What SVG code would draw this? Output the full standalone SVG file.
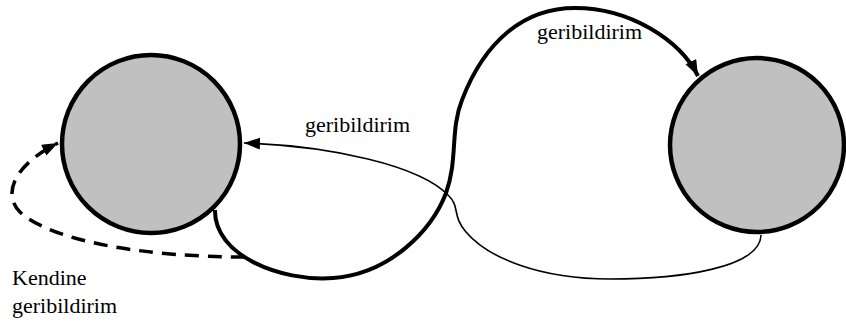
<svg xmlns="http://www.w3.org/2000/svg" width="846" height="322" viewBox="0 0 846 322">
<defs>
<style>
.node{fill:#c0c0c0;stroke:#000;stroke-width:4.5}
.edge{fill:none;stroke:#000}
</style>
<marker id="ah" markerUnits="userSpaceOnUse" markerWidth="18" markerHeight="14" refX="16" refY="6" orient="auto">
<path d="M0,0 L16,6 L0,12 Z" fill="#000"/>
</marker>
</defs>
<rect width="846" height="322" fill="#fff"/>
<g id="node-left"><circle class="node" cx="151" cy="144" r="89"/></g>
<g id="node-right"><circle class="node" cx="757" cy="145" r="87"/></g>
<g id="connectors">
<path class="edge" stroke-width="4" marker-end="url(#ah)" d="M215,210 C214,255 280,282 333,278 C390,274 432,230 446,193 C458,160 450,130 462,100 C485,40 525,8 575,8 C630,8 680,40 698,76"/>
<path class="edge" stroke-width="1.6" marker-end="url(#ah)" d="M761,235 C760,268 680,279 610,279 C540,279 488,258 466,232 C452,216 460,207 449,196 C420,165 330,146 244,143"/>
<path class="edge" stroke-width="3.5" stroke-dasharray="14,9" marker-end="url(#ah)" d="M245,257 C140,257 50,240 20,212 C2,194 14,165 58,143"/>
</g>
<g id="labels">
<text x="537" y="39" font-family="Liberation Serif, serif" font-size="22">geribildirim</text>
<text x="305" y="132" font-family="Liberation Serif, serif" font-size="22">geribildirim</text>
<text x="12" y="285" font-family="Liberation Serif, serif" font-size="22">Kendine</text>
<text x="12" y="313" font-family="Liberation Serif, serif" font-size="22">geribildirim</text>
</g>
</svg>
